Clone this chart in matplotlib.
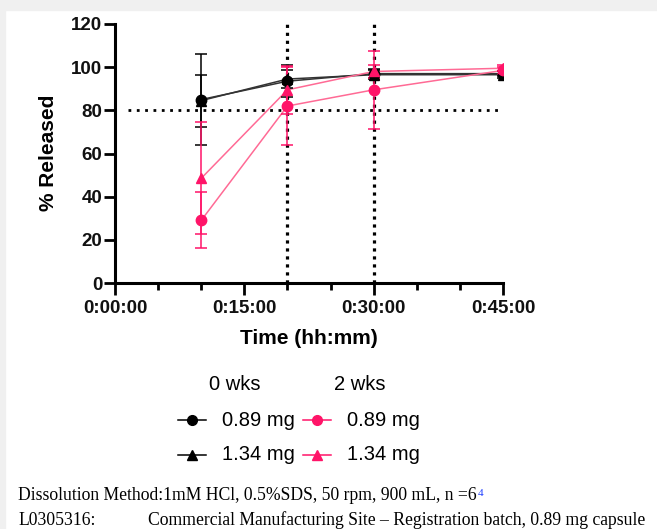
import matplotlib
matplotlib.use("Agg")
import matplotlib.pyplot as plt
from matplotlib.lines import Line2D
from matplotlib.patches import Rectangle
from matplotlib.ticker import FixedLocator

plt.rcParams['font.family'] = ['Liberation Sans', 'DejaVu Sans']

# dissolution data (time in minutes, % released, SD)
time_min = [10, 20, 30, 45]
wk0_089 = [85, 93.5, 97, 97]
wk0_089_sd = [21, 7.5, 2, 1]
wk0_134 = [84.5, 94.5, 96.5, 96.5]
wk0_134_sd = [12, 4, 2, 1.5]
wk2_089 = [29, 82, 89.5, 98.5]
wk2_089_sd = [13, 18, 18, 1.5]
wk2_134 = [48.5, 89.5, 98, 99.5]
wk2_134_sd = [26, 11, 3, 1.5]

target = 80
check_times = [20, 30]
major_ticks = [0, 15, 30, 45]
major_labels = ['0:00:00', '0:15:00', '0:30:00', '0:45:00']
y_ticks = [0, 20, 40, 60, 80, 100, 120]

pink = '#FF1468'
pink_line = '#FF6A95'
W, H = 657, 529


def fx(px):
    return px / W


def fy(py):
    return 1 - py / H


fig = plt.figure(figsize=(6.57, 5.29), dpi=100)
fig.patch.set_facecolor('white')
fig.patches.append(Rectangle((0, fy(10)), 1, 10 / H, transform=fig.transFigure,
                             color='#f0f0f0', zorder=0))
fig.patches.append(Rectangle((0, 0), 5 / W, 1, transform=fig.transFigure,
                             color='#f0f0f0', zorder=0))

ax = fig.add_axes([fx(115), fy(283), fx(503) - fx(115), (283 - 24) / H])

# reference lines
ax.hlines(target, 1.5, 45, colors='black', lw=2, linestyles=(0, (1, 2)), zorder=1)
for t in check_times:
    ax.vlines(t, 0, 120, colors='black', lw=2.3, linestyles=(0, (1, 1.5)), zorder=1)

series = [
    (wk0_089, wk0_089_sd, 'o', 'black', '#333333'),
    (wk0_134, wk0_134_sd, '^', 'black', '#333333'),
    (wk2_089, wk2_089_sd, 'o', pink, pink_line),
    (wk2_134, wk2_134_sd, '^', pink, pink_line),
]
for vals, sd, mk, col, lcol in series:
    ax.plot(time_min, vals, color=lcol, lw=1.1, zorder=2)
    ax.errorbar(time_min, vals, yerr=sd, fmt=mk, color=col, ecolor=col,
                elinewidth=1.1, capsize=4.5, capthick=1.1, ms=7.5, zorder=3)

ax.set_xlim(0, 45)
ax.set_ylim(0, 120)
for s in ['top', 'right']:
    ax.spines[s].set_visible(False)
for s in ['left', 'bottom']:
    ax.spines[s].set_linewidth(2.2)

ax.xaxis.set_major_locator(FixedLocator(major_ticks))
ax.xaxis.set_minor_locator(FixedLocator(range(0, 46, 5)))
ax.set_xticklabels(major_labels)
ax.set_yticks(y_ticks)
ax.tick_params(axis='x', which='major', length=8.5, width=2, labelsize=13.5, pad=4)
ax.tick_params(axis='x', which='minor', length=5, width=2)
ax.tick_params(axis='y', length=8, width=2, labelsize=13.5, pad=1)
for lab in ax.get_xticklabels() + ax.get_yticklabels():
    lab.set_fontweight('bold')
    lab.set_color('#111111')

fig.text(fx(309), fy(338), 'Time (hh:mm)', ha='center', va='center',
         fontsize=15, fontweight='bold')
fig.text(fx(48), fy(153), '% Released', ha='center', va='center',
         fontsize=15, fontweight='bold', rotation=90)

# legend (two columns with headers)
fig.text(fx(235), fy(385), '0 wks', ha='center', va='center', fontsize=14.5)
fig.text(fx(360), fy(385), '2 wks', ha='center', va='center', fontsize=14.5)
leg_rows = [
    (178, 'o', 'black', 420, '0.89 mg'),
    (178, '^', 'black', 455, '1.34 mg'),
    (303, 'o', pink, 420, '0.89 mg'),
    (303, '^', pink, 455, '1.34 mg'),
]
for x0, mk, col, y0, lab in leg_rows:
    fig.add_artist(Line2D([fx(x0), fx(x0 + 28)], [fy(y0), fy(y0)], color=col,
                          lw=1.1, transform=fig.transFigure))
    fig.add_artist(Line2D([fx(x0 + 14)], [fy(y0)], marker=mk, color=col, ms=7,
                          transform=fig.transFigure))
    fig.text(fx(x0 + 44), fy(y0), lab, ha='left', va='center', fontsize=14.5)

# footnote
serif = ['Liberation Serif', 'DejaVu Serif']
t1 = fig.text(fx(18), fy(500), 'Dissolution Method:1mM HCl, 0.5%SDS, 50 rpm, 900 mL, n =6',
              ha='left', va='baseline', fontsize=12.7, family=serif)
ax.annotate('4', xy=(1, 0), xycoords=t1, xytext=(0.5, 5.5), textcoords='offset points',
            ha='left', va='baseline', fontsize=8, color='#2040ff', family=serif)
fig.text(fx(18), fy(525), 'L0305316:', ha='left', va='baseline', fontsize=12.7, family=serif)
fig.text(fx(148), fy(525), 'Commercial Manufacturing Site \u2013 Registration batch, 0.89 mg capsule',
         ha='left', va='baseline', fontsize=12.7, family=serif)

fig.savefig('out.png', dpi=100)
